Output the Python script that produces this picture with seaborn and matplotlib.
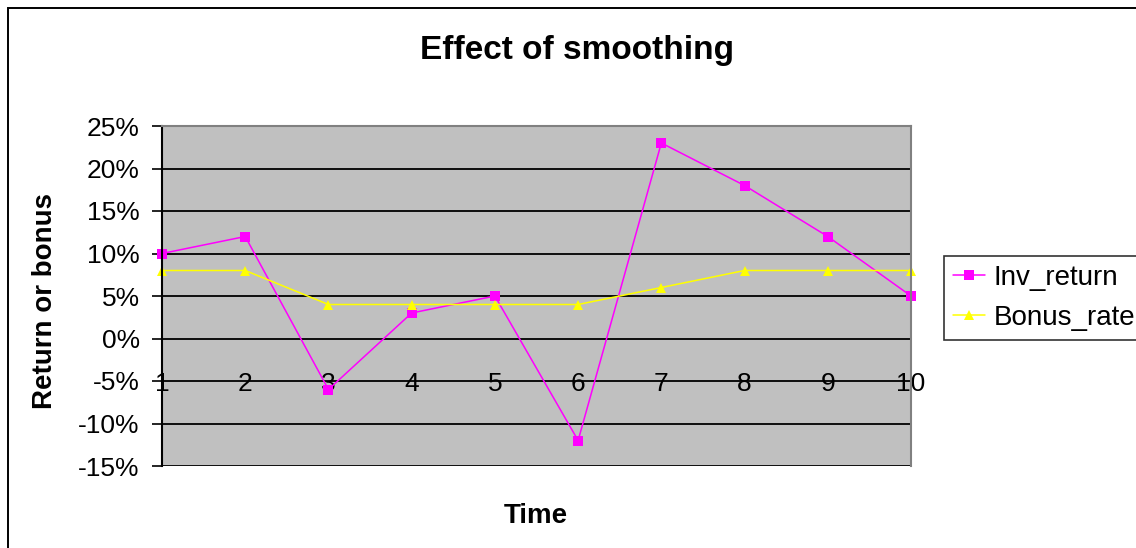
import pandas as pd
import seaborn as sns
import matplotlib.pyplot as plt
from matplotlib.ticker import PercentFormatter
from matplotlib.patches import Rectangle

time = [1, 2, 3, 4, 5, 6, 7, 8, 9, 10]
inv_return = [0.10, 0.12, -0.06, 0.03, 0.05, -0.12, 0.23, 0.18, 0.12, 0.05]
bonus_rate = [0.08, 0.08, 0.04, 0.04, 0.04, 0.04, 0.06, 0.08, 0.08, 0.08]
y_ticks = [-0.15, -0.10, -0.05, 0, 0.05, 0.10, 0.15, 0.20, 0.25]

df = pd.DataFrame({
    "Time": time * 2,
    "value": inv_return + bonus_rate,
    "series": ["Inv_return"] * len(time) + ["Bonus_rate"] * len(time),
})

sns.set_style("white", rc={"text.color": "black", "axes.labelcolor": "black",
                           "xtick.color": "black", "ytick.color": "black"})
plt.rcParams["font.family"] = ["Liberation Sans", "DejaVu Sans"]
plt.rcParams["axes.unicode_minus"] = False

fig = plt.figure(figsize=(11.36, 5.48), dpi=100)
ax = fig.add_axes([162 / 1136, 1 - 466 / 548, (911 - 162) / 1136, (466 - 126) / 548])
ax.set_facecolor("#C0C0C0")

sns.lineplot(data=df, x="Time", y="value", hue="series", style="series",
             palette={"Inv_return": "#FF00FF", "Bonus_rate": "#FFFF00"},
             markers={"Inv_return": "s", "Bonus_rate": "^"}, dashes=False,
             markersize=6.5, markeredgewidth=0, linewidth=1.1, ax=ax, legend=True)
for ln in ax.lines:
    ln.set_clip_on(False)

ax.set_xlim(1, 10)
ax.set_ylim(-0.15, 0.25)
ax.set_yticks(y_ticks)
ax.yaxis.set_major_formatter(PercentFormatter(xmax=1, decimals=0))
ax.set_xticks(time)
ax.grid(axis="y", color="black", linewidth=1.3)
ax.set_axisbelow(True)

# category axis crosses at 0
ax.spines["bottom"].set_position(("data", 0))
ax.spines["bottom"].set_visible(False)
ax.tick_params(axis="x", length=0, pad=24, labelsize=19)
ax.tick_params(axis="y", length=7, width=1.2, color="black", direction="out",
               left=True, pad=9, labelsize=19)
ax.spines["left"].set_color("black")
ax.spines["left"].set_linewidth(1.5)
for s in ["top", "right"]:
    ax.spines[s].set_color("#808080")
    ax.spines[s].set_linewidth(1.5)

ax.set_xlabel("")
ax.set_ylabel("")
fig.text(45 / 1136, 1 - 301 / 548, "Return or bonus", fontsize=20,
         fontweight="bold", rotation=90, ha="center", va="center")
fig.text(536 / 1136, 1 - 516 / 548, "Time", fontsize=20, fontweight="bold",
         ha="center", va="center")
fig.text(577 / 1136, 1 - 51 / 548, "Effect of smoothing", fontsize=24,
         fontweight="bold", ha="center", va="center")

handles, labels = ax.get_legend_handles_labels()
leg = ax.legend(handles, labels, loc="upper left",
                bbox_to_anchor=(944 / 1136, 1 - 256 / 548),
                bbox_transform=fig.transFigure, fontsize=20, frameon=True,
                fancybox=False, edgecolor="black", borderaxespad=0,
                handlelength=1.15, handletextpad=0.3, labelspacing=0.5,
                borderpad=0.33)
leg.get_frame().set_linewidth(1.2)

fig.patches.append(Rectangle((7.5 / 1136, -0.05), 1.5, 1 - 7.5 / 548 + 0.05,
                             transform=fig.transFigure, fill=False,
                             edgecolor="black", linewidth=1.4))

plt.savefig("out.png", dpi=100)
